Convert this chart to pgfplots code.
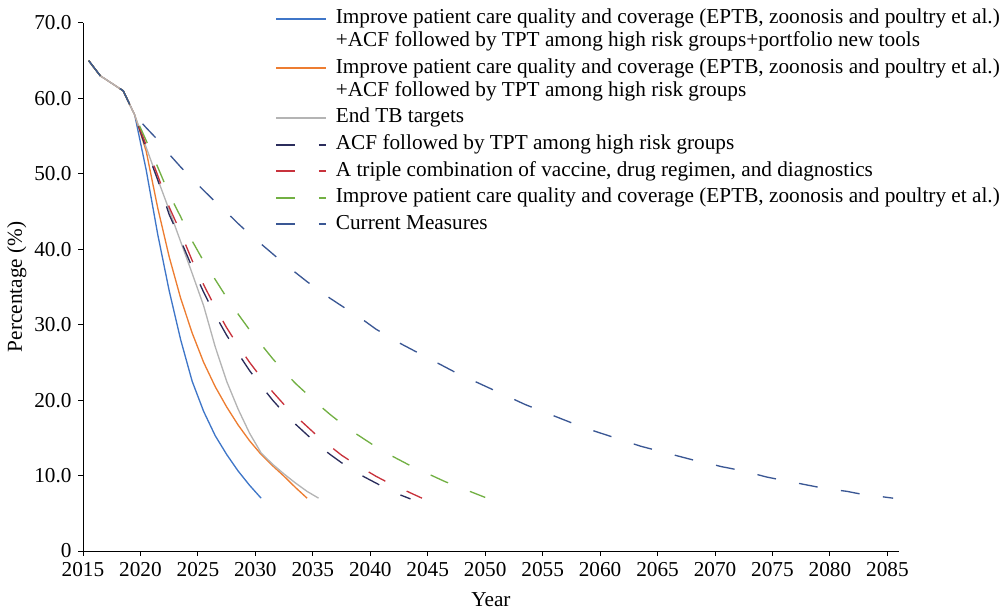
\documentclass[border=0pt]{standalone}
\usepackage{fontspec}
\setmainfont{Liberation Serif}
\usepackage{pgfplots}
\pgfplotsset{compat=1.18}
\definecolor{cblue}{HTML}{3F76C8}
\definecolor{corange}{HTML}{ED7D31}
\definecolor{cgray}{HTML}{B4B4B4}
\definecolor{cnavy}{HTML}{2B2D5C}
\definecolor{cred}{HTML}{C8323C}
\definecolor{cgreen}{HTML}{72B043}
\definecolor{ccur}{HTML}{3A5794}
\newcommand{\fs}{\fontsize{11.2}{13.5}\selectfont}
\begin{document}
\begin{tikzpicture}
\begin{axis}[
  name=ax,
  at={(0,0)}, anchor=south west,
  width=430pt, height=278.3pt, scale only axis,
  xmin=2015, xmax=2086, ymin=0, ymax=70,
  axis lines*=left,
  axis line style={black, line width=0.5pt},
  xtick={2015,2020,...,2085},
  ytick={0,10,...,70},
  yticklabels={0,10.0,20.0,30.0,40.0,50.0,60.0,70.0},
  x tick label style={/pgf/number format/1000 sep={}},
  /pgf/number format/assume math mode=true,
  every tick label/.append style={font=\fs},
  tick align=outside, major tick length=2.5pt,
  tick style={black, line width=0.5pt},
  xlabel={Year}, ylabel={Percentage (\%)},
  label style={font=\fs},
  xlabel style={at={(axis description cs:0.5,-0.093)}, anchor=center},
  ylabel style={at={(axis description cs:-0.081,0.5)}, anchor=center},
  legend style={at={(axis description cs:0.2353,1.034)}, anchor=north west,
    draw=none, fill=none, inner sep=0pt, font=\fs, row sep=0pt,
    nodes={inner sep=0pt, text height=9.6pt, text depth=4.4pt}},
  legend cell align=left,
  legend image code/.code={\draw[#1, line width=1.1pt] (0pt,0pt) -- (26.4pt,0pt); \path (31pt,0pt);},
  every axis plot/.append style={line width=0.7pt},
]
\addplot[cblue] coordinates {(2015.5,65) (2016.5,63) (2017.5,62) (2018.5,61) (2019.5,57.8)
 (2020.5,50.5) (2021.5,42) (2022.5,34.5) (2023.5,28) (2024.5,22.5) (2025.5,18.5)
 (2026.5,15.3) (2027.5,12.8) (2028.5,10.6) (2029.5,8.7) (2030.5,7.0)};
\addlegendentry[align=left, text height={}, text depth={}, yshift=-6.1pt, font=\fontsize{11.2}{12.2}\selectfont]{\rule{0pt}{9.6pt}Improve patient care quality and coverage (EPTB, zoonosis and poultry et al.)\\+ACF followed by TPT among high risk groups+portfolio new tools\rule[-4.4pt]{0pt}{4.4pt}}
\addplot[corange] coordinates {(2015.5,65) (2016.5,63) (2017.5,62) (2018.5,61) (2019.5,57.8)
 (2020.5,53) (2021.5,45.5) (2022.5,39.0) (2023.5,33.5) (2024.5,28.9) (2025.5,25.0)
 (2026.5,21.8) (2027.5,19.1) (2028.5,16.7) (2029.5,14.6) (2030.5,12.8) (2031.5,11.3)
 (2032.5,9.9) (2033.5,8.4) (2034.5,7.0)};
\addlegendentry[align=left, text height={}, text depth={}, yshift=-6.1pt, font=\fontsize{11.2}{12.2}\selectfont]{\rule{0pt}{9.6pt}Improve patient care quality and coverage (EPTB, zoonosis and poultry et al.)\\+ACF followed by TPT among high risk groups\rule[-4.4pt]{0pt}{4.4pt}}
\addplot[cgray] coordinates {(2015.5,65) (2016.5,63) (2017.5,62) (2018.5,61) (2019.5,57.8)
 (2020.5,53.5) (2021.5,49.3) (2022.5,45.2) (2023.5,41) (2024.5,36.8) (2025.5,32.5)
 (2026.5,27.1) (2027.5,22.5) (2028.5,18.8) (2029.5,15.6) (2030.5,13.0) (2031.5,11.5)
 (2032.5,10.2) (2033.5,9.0) (2034.5,7.9) (2035.5,7.0)};
\addlegendentry{End TB targets}
\addplot[cnavy, dash pattern=on 10pt off 12.4pt] coordinates {(2015.5,65) (2016.5,63) (2017.5,62) (2018.5,61) (2019.5,57.8)
 (2020.5,53.3) (2021.5,49.2) (2022.5,44.6) (2023.5,41.2) (2024.5,37.6) (2025.5,34.3)
 (2026.5,31.3) (2027.5,28.6) (2028.5,26.2) (2029.5,23.9) (2030.5,21.9) (2031.5,20.0)
 (2032.5,18.3) (2033.5,16.8) (2034.5,15.4) (2035.5,14.0) (2036.5,12.8) (2037.5,11.7)
 (2038.5,10.7) (2039.5,9.8) (2040.5,9.0) (2041.5,8.2) (2042.5,7.5) (2043.5,6.9)};
\addlegendentry{ACF followed by TPT among high risk groups}
\addplot[cred, dash pattern=on 10pt off 12.4pt] coordinates {(2015.5,65) (2016.5,63) (2017.5,62) (2018.5,61) (2019.5,57.8)
 (2020.5,53.8) (2021.5,49.8) (2022.5,45.6) (2023.5,42.2) (2024.5,38.5) (2025.5,35.3)
 (2026.5,32.3) (2027.5,29.6) (2028.5,27.2) (2029.5,25.0) (2030.5,23.0) (2031.5,21.1)
 (2032.5,19.4) (2033.5,17.9) (2034.5,16.5) (2035.5,15.1) (2036.5,13.9) (2037.5,12.7)
 (2038.5,11.7) (2039.5,10.8) (2040.5,9.9) (2041.5,9.1) (2042.5,8.4) (2043.5,7.7) (2044.5,7.0)};
\addlegendentry{A triple combination of vaccine, drug regimen, and diagnostics}
\addplot[cgreen, dash pattern=on 10pt off 12.4pt] coordinates {(2015.5,65) (2016.5,63) (2017.5,62) (2018.5,61) (2019.5,57.8)
 (2020.5,54.4) (2021.5,50.9) (2022.5,47.3) (2023.5,44.3) (2024.5,41.1) (2025.5,38.4)
 (2026.5,36.0) (2027.5,33.6) (2028.5,31.4) (2029.5,29.3) (2030.5,27.4) (2031.5,25.5)
 (2032.5,23.8) (2033.5,22.2) (2034.5,20.8) (2035.5,19.4) (2036.5,18.1) (2037.5,16.9)
 (2038.5,15.8) (2039.5,14.8) (2040.5,13.8) (2041.5,12.9) (2042.5,12.1) (2043.5,11.3)
 (2044.5,10.6) (2045.5,9.9) (2046.5,9.2) (2047.5,8.6) (2048.5,8.0) (2049.5,7.4) (2050.0,7.1)};
\addlegendentry{Improve patient care quality and coverage (EPTB, zoonosis and poultry et al.)}
\addplot[ccur, dash pattern=on 10pt off 12.4pt] coordinates {(2015.5,65) (2016.5,63) (2017.5,62) (2018.5,61) (2019.5,57.8)
 (2020.5,56.1) (2021.5,54.5) (2022.5,52.6) (2023.5,50.9) (2024.5,49.3) (2025.5,47.8)
 (2026.5,46.3) (2027.5,44.9) (2028.5,43.4) (2029.5,42.0) (2030.5,40.7) (2031.5,39.4)
 (2032.5,38.1) (2033.5,36.9) (2034.5,35.7) (2035.5,34.6) (2036.5,33.5) (2037.5,32.5)
 (2038.5,31.5) (2039.5,30.5) (2040.5,29.4) (2041.5,28.5) (2042.5,27.6) (2043.5,26.8)
 (2044.5,26.0) (2045.5,25.2) (2046.5,24.4) (2047.5,23.6) (2048.5,22.9) (2049.5,22.2)
 (2050.5,21.5) (2051.5,20.8) (2052.5,20.1) (2053.5,19.4) (2054.5,18.8) (2055.5,18.2)
 (2056.5,17.6) (2057.5,17.0) (2058.5,16.5) (2059.5,15.9) (2060.5,15.4) (2061.5,14.9)
 (2062.5,14.4) (2063.5,13.9) (2064.5,13.5) (2065.5,13.1) (2066.5,12.7) (2067.5,12.3)
 (2068.5,11.9) (2069.5,11.6) (2070.5,11.2) (2071.5,10.9) (2072.5,10.6) (2073.5,10.2)
 (2074.5,9.8) (2075.5,9.5) (2076.5,9.2) (2077.5,8.9) (2078.5,8.6) (2079.5,8.3)
 (2080.5,8.1) (2081.5,7.9) (2082.5,7.6) (2083.5,7.4) (2084.5,7.2) (2085.5,7.0)};
\addlegendentry{Current Measures}
\end{axis}
\path (ax.south west) ++(-43.74pt,-32.67pt) rectangle ++(528.6pt,323.05pt);
\end{tikzpicture}
\end{document}
